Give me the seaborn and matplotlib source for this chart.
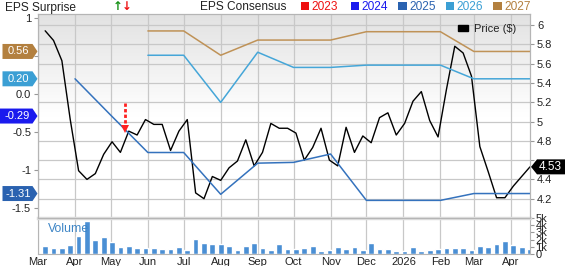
import numpy as np
import pandas as pd
import matplotlib
matplotlib.use("Agg")
import matplotlib.pyplot as plt
import matplotlib.dates as mdates
import matplotlib.ticker as mticker
import matplotlib.transforms as mtransforms
from matplotlib.patches import Polygon, Rectangle, Patch
from matplotlib.colors import LinearSegmentedColormap
import seaborn as sns

# ---------------- data ----------------
price_start = "2025-03-07"
price = [5.94, 5.84, 5.63, 5.02, 4.49, 4.40, 4.46, 4.66, 4.79, 4.68,
         4.90, 4.86, 5.02, 4.97, 4.97, 4.70, 4.90, 5.02, 4.26, 4.20,
         4.43, 4.39, 4.52, 4.59, 4.81, 4.54, 4.68, 4.98, 4.93, 4.93,
         4.88, 4.60, 4.73, 4.93, 4.60, 4.54, 4.94, 4.68, 4.85, 4.78,
         5.04, 5.09, 4.86, 4.98, 5.21, 5.31, 5.01, 4.84, 5.33, 5.78,
         5.71, 5.47, 4.74, 4.48, 4.21, 4.21, 4.33, 4.43, 4.53]
volume_k = [1.10, 0.78, 0.78, 1.23, 2.56, 4.57, 1.92, 2.33, 1.64, 0.91,
            1.05, 0.78, 0.78, 0.78, 0.68, 0.64, 1.00, 0.55, 2.05, 1.46,
            1.37, 1.37, 1.05, 0.59, 1.14, 1.46, 0.82, 0.59, 1.37, 0.70,
            0.70, 0.82, 1.10, 0.46, 0.55, 0.91, 0.73, 1.00, 0.55, 1.46,
            0.64, 0.68, 0.41, 0.46, 1.00, 0.46, 0.55, 0.73, 0.82, 0.82,
            0.82, 0.55, 1.10, 1.00, 1.37, 1.74, 1.19, 0.91, 0.68]

eps_dates = ["2025-04-01", "2025-05-01", "2025-06-01", "2025-07-01", "2025-08-01",
             "2025-09-01", "2025-10-01", "2025-11-01", "2025-12-01", "2026-01-01",
             "2026-02-01", "2026-03-01", "2026-04-17"]
eps_2025 = [0.20, -0.28, -0.77, -0.77, -1.32, -0.91, -0.90, -0.79, -1.40, -1.40,
            -1.40, -1.31, -1.31]
eps_2026 = [np.nan, np.nan, 0.51, 0.51, -0.11, 0.55, 0.35, 0.35, 0.38, 0.38,
            0.38, 0.20, 0.20]
eps_2027 = [np.nan, np.nan, 0.83, 0.83, 0.51, 0.71, 0.71, 0.71, 0.82, 0.82,
            0.82, 0.56, 0.56]

years = ["2023", "2024", "2025", "2026", "2027"]
year_colors = ["#ee1111", "#1a1aee", "#2a62b0", "#3b9fd4", "#b3803f"]
line_colors = {"2025": "#3472bd", "2026": "#45a6d8", "2027": "#bf9257"}
tag_values = {"2027": 0.56, "2026": 0.20, "2024": -0.29, "2025": -1.31}
last_price_label = "4.53"

surprise_date = "2025-05-13"
surprise_from, surprise_to = -0.12, -0.42
surprise_tip = -0.46

eps_ticks = [1, 0.5, 0.0, -0.5, -1, -1.5]
eps_tick_labels = ["1", "", "0.0", "-0.5", "-1", "-1.5"]   # 0.5 is covered by the 0.56 tag
price_ticks = [4.2, 4.4, 4.6, 4.8, 5.0, 5.2, 5.4, 5.6, 5.8, 6.0]
price_tick_labels = ["4.2", "4.4", "", "4.8", "5", "5.2", "5.4", "5.6", "5.8", "6"]  # 4.6 covered by tag
vol_ticks = [0, 1, 2, 3, 4, 5]
vol_tick_labels = ["0", "1k", "2k", "3k", "4k", "5k"]

x_start, x_end = "2025-03-01", "2026-04-17"

# ---------------- style ----------------
sns.set_style("white")
plt.rcParams["font.family"] = ["Liberation Sans", "DejaVu Sans"]
TXT = "#222222"
GRID = "#c8c8c8"
FRAME = "#b5b5b5"

W, H = 565, 266
fig = plt.figure(figsize=(W / 100, H / 100), dpi=100)
L, R, T, MB, VB = 38, 530, 14, 218, 254
pos_main = [L / W, 1 - MB / H, (R - L) / W, (MB - T) / H]
pos_vol = [L / W, 1 - VB / H, (R - L) / W, (VB - MB) / H]

# gradient background
bg = fig.add_axes(pos_main, zorder=-1)
cmap = LinearSegmentedColormap.from_list("g", ["#ffffff", "#ffffff", "#e2e2e2"])
grad = np.linspace(0, 1, 256)[:, None]
bg.imshow(grad, aspect="auto", cmap=cmap, origin="lower", extent=[0, 1, 0, 1])
bg.set_axis_off()

ax = fig.add_axes(pos_main)
ax.patch.set_alpha(0)
axv = fig.add_axes(pos_vol, sharex=ax)
axe = ax.twinx()

pdates = pd.date_range(price_start, periods=len(price), freq="7D")
df_price = pd.DataFrame({"date": pdates, "price": price})
sns.lineplot(data=df_price, x="date", y="price", ax=ax, color="black", lw=1.0,
             estimator=None, legend=False)

edates = pd.to_datetime(eps_dates)
for vals, yr in [(eps_2025, "2025"), (eps_2026, "2026"), (eps_2027, "2027")]:
    d = pd.DataFrame({"date": edates, "eps": vals}).dropna()
    sns.lineplot(data=d, x="date", y="eps", ax=axe, color=line_colors[yr], lw=1.1,
                 estimator=None, legend=False)

# surprise arrow
sd = pd.Timestamp(surprise_date)
axe.plot([sd, sd], [surprise_from, surprise_to], color="#ff2020", lw=2.0,
         ls=(0, (1.2, 0.8)), solid_capstyle="butt", dash_capstyle="butt")
axe.plot([sd], [surprise_tip], marker="v", color="#ff2020", ms=6, mew=0)

# volume
axv.bar(mdates.date2num(pdates), volume_k, width=4.8, color="#4a8fd4", align="center")

# limits
ax.set_xlim(pd.Timestamp(x_start), pd.Timestamp(x_end))
ax.set_ylim(4.0, 6.114)
axe.set_ylim(-1.632, 1.053)
axv.set_ylim(0, 5.0)

# price axis (right)
ax.yaxis.tick_right()
ax.set_yticks(price_ticks)
ax.set_yticklabels(price_tick_labels)
ax.tick_params(axis="y", which="both", right=True, left=False, labelright=True,
               labelleft=False, length=3, width=0.8, color="#999999", pad=2,
               labelsize=8, labelcolor=TXT)
ax.grid(True, axis="both", color=GRID, lw=0.9)
ax.set_axisbelow(True)
ax.set_xlabel("")
ax.set_ylabel("")
ax.tick_params(axis="x", labelbottom=False, length=0)
ax.xaxis.set_major_locator(mdates.MonthLocator())

# eps axis (left)
axe.yaxis.tick_left()
axe.set_yticks(eps_ticks)
axe.set_yticklabels(eps_tick_labels)
axe.tick_params(axis="y", left=True, right=False, labelleft=True, labelright=False,
                length=3, width=0.8, color="#999999", pad=2, labelsize=8,
                labelcolor=TXT)
axe.set_ylabel("")
axe.set_xlabel("")

# volume axis
axv.yaxis.tick_right()
axv.set_yticks(vol_ticks)
axv.set_yticklabels(vol_tick_labels)
axv.tick_params(axis="y", right=True, left=False, labelright=True, labelleft=False,
                length=3, width=0.8, color="#999999", pad=1, labelsize=8,
                labelcolor=TXT)
axv.xaxis.set_major_locator(mdates.MonthLocator())


def mfmt(v, p):
    d = mdates.num2date(v)
    return str(d.year) if d.month == 1 else d.strftime("%b")


axv.xaxis.set_major_formatter(mticker.FuncFormatter(mfmt))
axv.tick_params(axis="x", length=0, pad=2, labelsize=8, labelcolor=TXT)
axv.grid(True, axis="x", color=GRID, lw=0.9)
axv.set_axisbelow(True)
axv.text(0.02, 0.69, "Volume", transform=axv.transAxes, color="#3d85c6",
         fontsize=8.8, va="center", ha="left")

for a in (ax, axe):
    for s in a.spines.values():
        s.set_color(FRAME)
        s.set_linewidth(0.8)
for name, s in axv.spines.items():
    s.set_color(FRAME)
    s.set_linewidth(0.8)
axv.spines["top"].set_color("#dddddd")
axv.spines["top"].set_linewidth(2.5)

# price legend
leg = axe.legend(handles=[Patch(color="black")], labels=["Price ($)"],
                 loc="upper right", bbox_to_anchor=(0.985, 0.985), frameon=False,
                 handlelength=0.9, handleheight=0.45, handletextpad=0.5,
                 fontsize=8, borderaxespad=0.2)
for t in leg.get_texts():
    t.set_color(TXT)

# header texts
fig.text(5 / W, 1 - 7.5 / H, "EPS Surprise", fontsize=8.6, color=TXT, va="center", ha="left")
fig.text(113 / W, 1 - 7 / H, "↑", fontsize=8.5, color="#149014", va="center", ha="left",
         family=["DejaVu Sans"], fontweight="bold")
fig.text(121.5 / W, 1 - 7 / H, "↓", fontsize=8.5, color="#ee1111", va="center", ha="left",
         family=["DejaVu Sans"], fontweight="bold")
fig.text(200 / W, 1 - 7.5 / H, "EPS Consensus", fontsize=8.6, color=TXT, va="center", ha="left")
sq_x = [300.7, 350.7, 398.3, 445.7, 493.3]
for x0, yr, col in zip(sq_x, years, year_colors):
    fig.add_artist(Rectangle((x0 / W, 1 - 9.5 / H), 8.5 / W, 8 / H,
                             transform=fig.transFigure, color=col, lw=0))
    fig.text((x0 + 11) / W, 1 - 7.5 / H, yr, fontsize=8.6, color=col, va="center", ha="left")

# value tags on the left
ident = mtransforms.IdentityTransform()
for yr, val in tag_values.items():
    col = year_colors[years.index(yr)]
    y = axe.transData.transform((0, val))[1]
    h = 7.5
    x0 = 0 if yr == "2024" else 2.5
    x1, xt = 32.5, 37.5
    fig.add_artist(Polygon([(x0, y - h), (x1, y - h), (xt, y), (x1, y + h), (x0, y + h)],
                           closed=True, transform=ident, color=col, lw=0))
    fig.text((x0 + x1) / 2 + 0.5, y, f"{val:.2f}", transform=ident, color="white",
             fontsize=8, ha="center", va="center")

# last price tag on the right
yp = ax.transData.transform((0, price[-1]))[1]
h = 7.5
fig.add_artist(Polygon([(531, yp), (537, yp - h), (566, yp - h), (566, yp + h), (537, yp + h)],
                       closed=True, transform=ident, color="black", lw=0))
fig.text(550.5, yp, last_price_label, transform=ident, color="white", fontsize=8.5,
         ha="center", va="center")

fig.savefig("out.png", dpi=100)
